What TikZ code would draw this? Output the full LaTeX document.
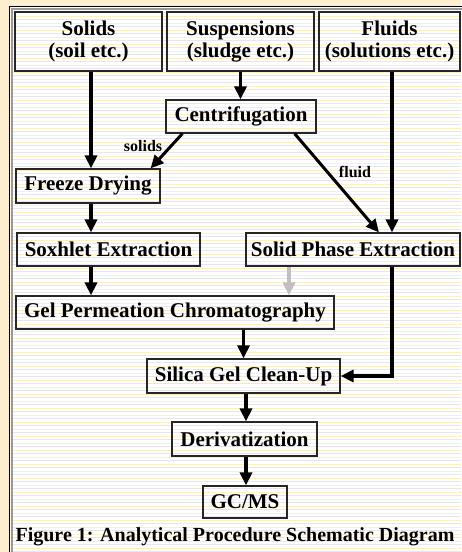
\documentclass[tikz,border=0pt]{standalone}
\usepackage{fontspec}
\setmainfont{Liberation Serif}
\usetikzlibrary{arrows.meta}
\definecolor{paper}{RGB}{253,238,208}
\definecolor{ruleyellow}{RGB}{255,240,195}
\definecolor{rulegray}{RGB}{230,230,236}
\begin{document}
\begin{tikzpicture}[x=1pt, y=-1pt, box node/.style={shape=rectangle, draw=black!85, line width=1.2pt, inner sep=0pt, align=center, font=\fontsize{21}{22.5}\selectfont\bfseries}, label node/.style={font=\fontsize{16}{18}\selectfont\bfseries}, big arrow/.style={line width=4pt, -{Triangle[length=13pt,width=12pt]}}, small arrow/.style={line width=3pt, -{Triangle[length=13pt,width=12pt]}}]
\useasboundingbox (0,0) rectangle (461,552);
% paper background
\fill[paper] (0,0) rectangle (461,552);
\fill[white] (10,7) rectangle (461,552);
\foreach \k in {0,...,78} {
  \draw[ruleyellow, line width=0.7pt] (10,{9+7*\k}) -- (461,{9+7*\k});
  \draw[rulegray, line width=0.7pt] (10,{12.5+7*\k}) -- (461,{12.5+7*\k});
}
\draw[black!40, line width=1.5pt] (12,9) rectangle (480,580);
\draw[black, line width=1pt] (9.5,6.5) rectangle (478,578);
% boxes
\node[box node, minimum width=147pt, minimum height=59pt] (S) at (88.5,41.5) {Solids\\(soil etc.)};
\node[box node, minimum width=147pt, minimum height=59pt] (Su) at (240.5,41.5) {Suspensions\\(sludge etc.)};
\node[box node, minimum width=141pt, minimum height=59pt] (F) at (389.5,41.5) {Fluids\\(solutions etc.)};
\node[box node, minimum width=150pt, minimum height=33pt] (C) at (241,116.5) {Centrifugation};
\node[box node, minimum width=144pt, minimum height=34pt] (FD) at (88,186) {Freeze Drying};
\node[box node, minimum width=183pt, minimum height=33pt] (SX) at (108.5,249.5) {Soxhlet Extraction};
\node[box node, minimum width=214pt, minimum height=33pt] (SPE) at (353,249.5) {Solid Phase Extraction};
\node[box node, minimum width=318pt, minimum height=33pt] (GPC) at (175,312.5) {Gel Permeation Chromatography};
\node[box node, minimum width=193pt, minimum height=34pt] (SG) at (243.5,376) {Silica Gel Clean-Up};
\node[box node, minimum width=145pt, minimum height=34pt] (D) at (244.5,439) {Derivatization};
\node[box node, minimum width=84pt, minimum height=32pt] (GC) at (245,502) {GC/MS};
\node[font=\fontsize{20}{22}\selectfont\bfseries] (cap) at (235,537) {Figure 1: Analytical Procedure Schematic Diagram};
% labels
\node[label node] (ls) at (143,146) {solids};
\node[label node] (lf) at (355,172) {fluid};
% arrows
\coordinate (left) at ([xshift=2.5pt]S.south);
\coordinate (right) at ([xshift=2.5pt]F.south);
\coordinate (gray) at ([xshift=-64pt]SPE.south);
\draw[big arrow] (left) -- (left |- FD.north);
\draw[small arrow] (Su.south) -- (Su.south |- C.north);
\draw[small arrow] ([xshift=17pt]C.south west) -- ([xshift=-10pt]FD.north east);
\draw[small arrow] ([xshift=-22pt]C.south east) -- ([xshift=26pt]SPE.north);
\draw[big arrow] (right) -- (right |- SPE.north);
\draw[big arrow] (left |- FD.south) -- (left |- SX.north);
\draw[big arrow] (left |- SX.south) -- (left |- GPC.north);
\draw[big arrow, black!25] (gray) -- (gray |- GPC.north);
\draw[big arrow] (right |- SPE.south) |- (SG.east);
\draw[small arrow] (SG.north |- GPC.south) -- (SG.north);
\draw[big arrow] ([xshift=2.5pt]SG.south) -- ([xshift=2.5pt]SG.south |- D.north);
\draw[big arrow] ([xshift=1.5pt]D.south) -- ([xshift=1.5pt]D.south |- GC.north);
\end{tikzpicture}
\end{document}
